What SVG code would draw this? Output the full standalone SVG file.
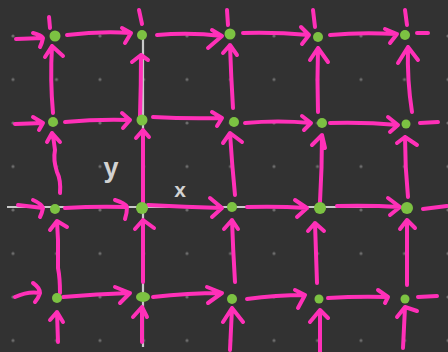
<svg xmlns="http://www.w3.org/2000/svg" width="448" height="352" viewBox="0 0 448 352">
<defs>
<pattern id="dots" x="-8.75" y="14.25" width="43.5" height="43.5" patternUnits="userSpaceOnUse">
<circle cx="21.75" cy="21.75" r="1.6" fill="#6c6c6c"/>
</pattern>
<style>
.a{fill:none;stroke:#ff30b8;stroke-width:4;stroke-linecap:round;stroke-linejoin:round}
.ax{stroke:#c9c9c9;stroke-width:2.2;fill:none}
.n{fill:#7cc242}
.lb{font-family:"Liberation Sans",Arial,sans-serif;fill:#d2d2d2;font-weight:bold}
</style>
</defs>
<rect width="448" height="352" fill="#323232"/>
<rect width="448" height="352" fill="url(#dots)"/>
<g id="axes">
<line class="ax" x1="7" y1="207" x2="412" y2="207"/>
<line class="ax" x1="143" y1="35" x2="143" y2="347"/>
</g>
<g id="connectors">
<!-- row 1 horizontal -->
<path class="a" d="M16 39 L43 38 M33 33 Q41 35 43 38 Q42 43 40 47"/>
<path class="a" d="M67 35 Q100 31 131 33 M122 28 L131 33 L125 43"/>
<path class="a" d="M157 35 Q190 32 222 36 M212 30 L222 36 L208 48"/>
<path class="a" d="M243 33 Q275 32 309 35 M301 27 L309 35 L302 44"/>
<path class="a" d="M330 35 Q360 32 397 34 M385 29 L397 34 L390 43"/>
<path class="a" d="M417 33 L428 33"/>
<!-- row 2 horizontal -->
<path class="a" d="M15 124 L43 123 M33 117 L43 123 L39 130"/>
<path class="a" d="M65 122 Q98 119 130 120 M122 113 L130 120 L123 128"/>
<path class="a" d="M153 117 Q188 119 222 118 M212 112 L222 118 L217 126"/>
<path class="a" d="M245 123 Q278 120 311 123 M302 116 L311 123 L304 130"/>
<path class="a" d="M330 123 Q365 122 398 125 M388 117 L398 125 L390 132"/>
<path class="a" d="M420 123 L438 122"/>
<!-- row 3 horizontal -->
<path class="a" d="M18 205 L43 208 M33 200 Q42 204 43 208 Q42 213 40 217"/>
<path class="a" d="M65 208 Q96 206 127 207 M115 200 Q125 203 127 207 Q127 213 125 219"/>
<path class="a" d="M148 205 Q185 207 222 208 M210 198 L222 208 L212 217"/>
<path class="a" d="M247 207 Q277 206 307 208 M295 200 L307 208 L297 217"/>
<path class="a" d="M337 206 Q368 205 400 207 M388 198 L400 207 L390 215"/>
<path class="a" d="M423 209 L447 206"/>
<!-- row 4 horizontal -->
<path class="a" d="M15 297 Q28 291 40 293 M33 283 Q40 288 40 293 Q38 299 35 302"/>
<path class="a" d="M63 297 Q97 294 130 293 M115 287 L130 293 L120 303"/>
<path class="a" d="M153 297 Q188 293 222 293 M207 287 L222 293 L208 303"/>
<path class="a" d="M247 299 Q276 295 305 295 M295 290 L305 295 L298 308"/>
<path class="a" d="M328 298 Q358 296 388 297 M378 290 L388 297 L385 303"/>
<path class="a" d="M418 297 L437 296"/>
<!-- top ticks -->
<path class="a" d="M49 17 L50 28"/>
<path class="a" d="M139 10 L142 24"/>
<path class="a" d="M227 10 L228 25"/>
<path class="a" d="M313 10 L315 27"/>
<path class="a" d="M405 10 L407 25"/>
<!-- row 2 to row 1 vertical -->
<path class="a" d="M53 113 Q50 80 52 46 M45 57 L52 46 L63 56"/>
<path class="a" d="M140 116 Q141 85 141 55 M132 62 L141 55 L148 60"/>
<path class="a" d="M233 108 Q231 76 230 45 M223 53 L230 45 L237 55"/>
<path class="a" d="M318 112 Q317 80 318 48 M310 60 L318 48 L328 62"/>
<path class="a" d="M412 112 Q407 80 408 47 M398 63 L408 47 L418 60"/>
<!-- row 3 to row 2 vertical -->
<path class="a" d="M60 193 Q61 180 57 172 Q53 160 55 150 Q54 140 52 133 M47 142 L52 133 L60 142"/>
<path class="a" d="M143 205 L143 130 M136 138 L143 130 L149 137"/>
<path class="a" d="M235 195 Q232 165 230 133 M223 143 L230 133 L242 142"/>
<path class="a" d="M320 202 Q322 168 322 135 M312 145 L322 135 L325 148"/>
<path class="a" d="M408 197 Q405 167 405 137 M397 143 L405 137 L417 145"/>
<!-- row 4 to row 3 vertical -->
<path class="a" d="M60 293 Q60 278 58 268 Q58 258 58 240 L57 221 M50 230 L57 221 L67 227"/>
<path class="a" d="M143 282 L143 220 M135 229 L143 220 L154 228"/>
<path class="a" d="M235 282 Q233 250 232 220 M224 229 L232 220 L238 229"/>
<path class="a" d="M317 283 Q316 252 315 223 M308 231 L315 223 L324 231"/>
<path class="a" d="M407 285 Q407 252 407 220 M400 229 L407 220 L415 228"/>
<!-- bottom to row 4 vertical -->
<path class="a" d="M58 342 L57 312 M50 320 L57 312 L63 322"/>
<path class="a" d="M142 342 L142 307 M133 317 L142 307 L147 317"/>
<path class="a" d="M230 350 Q231 330 232 308 M223 322 L232 308 L243 322"/>
<path class="a" d="M320 352 Q320 330 320 310 M310 322 L320 310 L328 318"/>
<path class="a" d="M403 348 Q404 328 405 307 M397 317 L405 307 L417 311"/>
</g>
<g id="nodes">
<g id="n-1-1"><circle class="n" cx="55" cy="36" r="5.5"/></g>
<g id="n-1-2"><circle class="n" cx="142" cy="35" r="5"/></g>
<g id="n-1-3"><circle class="n" cx="230" cy="34" r="5.5"/></g>
<g id="n-1-4"><circle class="n" cx="318" cy="37" r="5"/></g>
<g id="n-1-5"><circle class="n" cx="405" cy="35" r="5"/></g>
<g id="n-2-1"><circle class="n" cx="53" cy="122" r="5"/></g>
<g id="n-2-2"><circle class="n" cx="142" cy="120" r="5.5"/></g>
<g id="n-2-3"><circle class="n" cx="234" cy="122" r="5"/></g>
<g id="n-2-4"><circle class="n" cx="322" cy="123" r="5"/></g>
<g id="n-2-5"><circle class="n" cx="406" cy="124" r="4.5"/></g>
<g id="n-3-1"><circle class="n" cx="55" cy="209" r="5"/></g>
<g id="n-3-2"><circle class="n" cx="142" cy="208" r="6"/></g>
<g id="n-3-3"><circle class="n" cx="232" cy="207" r="5"/></g>
<g id="n-3-4"><circle class="n" cx="320" cy="208" r="6"/></g>
<g id="n-3-5"><circle class="n" cx="407" cy="208" r="6"/></g>
<g id="n-4-1"><circle class="n" cx="57" cy="298" r="5"/></g>
<g id="n-4-2"><ellipse class="n" cx="143" cy="297" rx="7" ry="5"/></g>
<g id="n-4-3"><circle class="n" cx="232" cy="299" r="5"/></g>
<g id="n-4-4"><circle class="n" cx="319" cy="299" r="4.5"/></g>
<g id="n-4-5"><circle class="n" cx="405" cy="299" r="4.5"/></g>
</g>
<g id="labels">
<text class="lb" x="111" y="177" font-size="27" text-anchor="middle">y</text>
<text class="lb" x="180" y="197" font-size="21" text-anchor="middle">x</text>
</g>
</svg>
